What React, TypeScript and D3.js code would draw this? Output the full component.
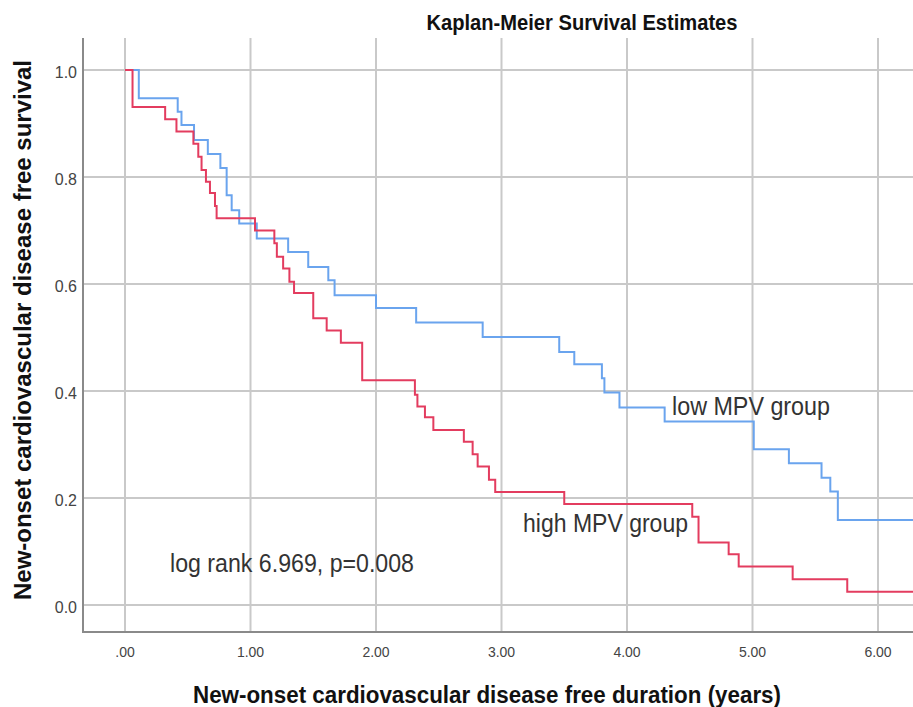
import React from "react";
import * as d3 from "d3";

const width = 913;
const height = 707;

// Kaplan-Meier steps (time in years, survival proportion)
const lowTimes = [0, 0.11, 0.42, 0.45, 0.55, 0.66, 0.76, 0.81, 0.85, 0.91, 1.05, 1.30, 1.46, 1.62, 1.67, 2.0, 2.32, 2.85, 3.46, 3.58, 3.80, 3.82, 3.94, 4.30, 5.01, 5.29, 5.55, 5.62, 5.68, 6.35];
const lowSurv = [1.0, 0.947, 0.922, 0.897, 0.869, 0.843, 0.817, 0.766, 0.738, 0.713, 0.685, 0.66, 0.632, 0.607, 0.579, 0.555, 0.528, 0.501, 0.473, 0.45, 0.424, 0.397, 0.369, 0.343, 0.291, 0.265, 0.238, 0.212, 0.159, 0.159];

const highTimes = [0, 0.06, 0.32, 0.41, 0.545, 0.584, 0.61, 0.645, 0.677, 0.717, 0.73, 1.036, 1.19, 1.21, 1.26, 1.31, 1.347, 1.5, 1.607, 1.72, 1.89, 2.31, 2.33, 2.39, 2.457, 2.7, 2.77, 2.81, 2.9, 2.95, 3.5, 4.52, 4.57, 4.81, 4.89, 5.32, 5.755, 6.35];
const highSurv = [1.0, 0.931, 0.908, 0.885, 0.862, 0.838, 0.813, 0.791, 0.77, 0.746, 0.723, 0.7, 0.676, 0.651, 0.629, 0.604, 0.583, 0.536, 0.513, 0.49, 0.42, 0.393, 0.371, 0.351, 0.327, 0.305, 0.282, 0.259, 0.234, 0.211, 0.189, 0.165, 0.117, 0.095, 0.072, 0.048, 0.025, 0.025];

const xTicks = [0, 1, 2, 3, 4, 5, 6];
const xTickLabels = [".00", "1.00", "2.00", "3.00", "4.00", "5.00", "6.00"];
const yTicks = [0, 0.2, 0.4, 0.6, 0.8, 1.0];

const frame = { left: 83, top: 38, bottom: 632, right: 913 };

const font = "'Liberation Sans', Arial, sans-serif";

const App = () => {
  const x = d3.scaleLinear().domain([0, 6]).range([125, 878]);
  const y = d3.scaleLinear().domain([0, 1]).range([605, 70]);

  const line = d3
    .line<[number, number]>()
    .x(d => x(d[0]))
    .y(d => y(d[1]))
    .curve(d3.curveStepAfter);

  const lowPts = lowTimes.map((t, i) => [t, lowSurv[i]] as [number, number]);
  const highPts = highTimes.map((t, i) => [t, highSurv[i]] as [number, number]);

  return (
    <svg
      width={width}
      height={height}
      style={{ position: "absolute", left: 0, top: 0, background: "#fff" }}
    >
      <defs>
        <clipPath id="plot">
          <rect x={frame.left} y={frame.top} width={frame.right - frame.left} height={frame.bottom - frame.top} />
        </clipPath>
      </defs>
      <rect x={0} y={0} width={width} height={height} fill="#fff" />

      <text
        x={582}
        y={30}
        textAnchor="middle"
        fontFamily={font}
        fontWeight="bold"
        fontSize={22}
        fill="#111"
        textLength={311}
        lengthAdjust="spacingAndGlyphs"
      >
        Kaplan-Meier Survival Estimates
      </text>

      {/* grid */}
      {yTicks.map(v => (
        <line key={"h" + v} x1={frame.left} x2={frame.right} y1={y(v)} y2={y(v)} stroke="#c9c9c9" strokeWidth={2} />
      ))}
      {xTicks.map(v => (
        <line key={"v" + v} x1={x(v)} x2={x(v)} y1={frame.top} y2={frame.bottom} stroke="#c9c9c9" strokeWidth={2} />
      ))}

      {/* axes */}
      <line x1={frame.left} x2={frame.left} y1={frame.top} y2={frame.bottom + 1} stroke="#8a8a8a" strokeWidth={2} />
      <line x1={frame.left} x2={frame.right} y1={frame.bottom} y2={frame.bottom} stroke="#8a8a8a" strokeWidth={2} />

      {yTicks.map(v => (
        <text key={"yl" + v} x={77} y={y(v) + 8} textAnchor="end" fontFamily={font} fontSize={16} fill="#444">
          {v.toFixed(1)}
        </text>
      ))}
      {xTicks.map((v, i) => (
        <text
          key={"xl" + v}
          x={x(v)}
          y={657}
          textAnchor="middle"
          fontFamily={font}
          fontSize={14}
          fill="#444"
        >
          {xTickLabels[i]}
        </text>
      ))}

      <g clipPath="url(#plot)">
        <path d={line(lowPts) || ""} fill="none" stroke="#6aa4ee" strokeWidth={2} />
        <path d={line(highPts) || ""} fill="none" stroke="#e33c5f" strokeWidth={2} />
      </g>

      <text x={672} y={415} fontFamily={font} fontSize={26} fill="#333" textLength={158} lengthAdjust="spacingAndGlyphs">
        low MPV group
      </text>
      <text x={523} y={532} fontFamily={font} fontSize={26} fill="#333" textLength={165} lengthAdjust="spacingAndGlyphs">
        high MPV group
      </text>
      <text x={170} y={572} fontFamily={font} fontSize={26} fill="#333" textLength={244} lengthAdjust="spacingAndGlyphs">
        log rank 6.969, p=0.008
      </text>

      <text
        x={487}
        y={703}
        textAnchor="middle"
        fontFamily={font}
        fontWeight="bold"
        fontSize={23}
        fill="#111"
        textLength={588}
        lengthAdjust="spacingAndGlyphs"
      >
        New-onset cardiovascular disease free duration (years)
      </text>
      <text
        transform="translate(31,330) rotate(-90)"
        textAnchor="middle"
        fontFamily={font}
        fontWeight="bold"
        fontSize={23}
        fill="#111"
        textLength={540}
        lengthAdjust="spacingAndGlyphs"
      >
        New-onset cardiovascular disease free survival
      </text>
    </svg>
  );
};

export default App;
